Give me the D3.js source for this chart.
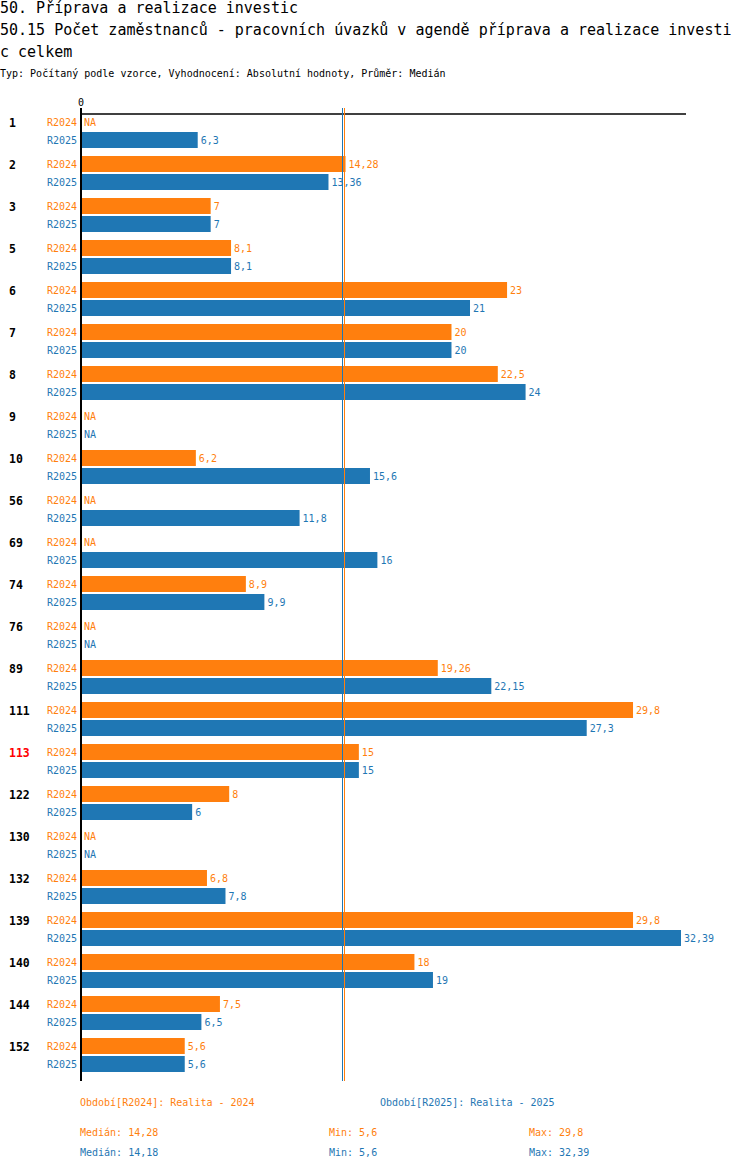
<!DOCTYPE html>
<html>
<head>
<meta charset="utf-8">
<script src="https://cdn.jsdelivr.net/npm/d3@7"></script>
<style>
  body { margin: 0; background: #fff; }
  text { font-family: 'DejaVu Sans Mono', monospace; }
</style>
</head>
<body>
<div id="chart"></div>
<script>
'use strict'

// Data
const titleLines = [
  '50. Příprava a realizace investic',
  '50.15 Počet zaměstnanců - pracovních úvazků v agendě příprava a realizace investi',
  'c celkem',
]
const subtitle =
  'Typ: Počítaný podle vzorce, Vyhodnocení: Absolutní hodnoty, Průměr: Medián'

const groups = [
  '1', '2', '3', '5', '6', '7', '8', '9', '10', '56', '69', '74',
  '76', '89', '111', '113', '122', '130', '132', '139', '140', '144', '152',
]
const highlighted = ['113']
const series = ['R2024', 'R2025']
const seriesNames = ['Realita - 2024', 'Realita - 2025']

const values2024 = [
  null, 14.28, 7, 8.1, 23, 20, 22.5, null, 6.2, null, null, 8.9,
  null, 19.26, 29.8, 15, 8, null, 6.8, 29.8, 18, 7.5, 5.6,
]
const values2025 = [
  6.3, 13.36, 7, 8.1, 21, 20, 24, null, 15.6, 11.8, 16, 9.9,
  null, 22.15, 27.3, 15, 6, null, 7.8, 32.39, 19, 6.5, 5.6,
]

const colors = ['#ff7f0e', '#1f77b4']

function draw() {
  const seriesValues = [values2024, values2025]
  const dataset = groups.map((g, i) => ({
    group: g,
    values: series.map((s, j) => ({ key: s, idx: j, value: seriesValues[j][i] })),
  }))

  const fmt = (v) => String(v).replace('.', ',')

  // Set dimensions
  let dimensions = {
    width: 750,
    height: 1170,
    plotLeft: 81,
    plotRight: 681,
    plotTop: 114,
    plotBottom: 1072,
  }

  const svg = d3
    .select('#chart')
    .append('svg')
    .attr('width', dimensions.width)
    .attr('height', dimensions.height)

  // Title
  svg
    .selectAll('text.title')
    .data(titleLines)
    .join('text')
    .attr('class', 'title')
    .attr('x', 0)
    .attr('y', (d, i) => 13 + i * 22)
    .attr('font-size', 15)
    .attr('fill', '#000')
    .text((d) => d)

  svg
    .append('text')
    .attr('x', 0)
    .attr('y', 77)
    .attr('font-size', 10)
    .attr('fill', '#000')
    .text(subtitle)

  // Scales
  const allValues = seriesValues.flat().filter((v) => v != null)
  const xScale = d3
    .scaleLinear()
    .domain([0, d3.max(allValues)])
    .range([dimensions.plotLeft, dimensions.plotRight])

  const yScale = d3
    .scaleBand()
    .domain(groups)
    .range([dimensions.plotTop, dimensions.plotBottom])
    .paddingInner(8 / 42)
    .paddingOuter(0)

  const subScale = d3
    .scaleBand()
    .domain(series)
    .range([0, yScale.bandwidth()])
    .paddingInner(2 / 18)

  // Group rows
  const rows = svg
    .selectAll('g.row')
    .data(dataset)
    .join('g')
    .attr('class', 'row')
    .attr('transform', (d) => `translate(0, ${yScale(d.group)})`)

  rows
    .append('text')
    .attr('x', 9)
    .attr('y', subScale('R2024') + subScale.bandwidth() / 2)
    .attr('dy', '0.42em')
    .attr('font-size', 11.5)
    .attr('font-weight', 'bold')
    .attr('fill', (d) => (highlighted.includes(d.group) ? '#ff0000' : '#000'))
    .text((d) => d.group)

  const cells = rows
    .selectAll('g.cell')
    .data((d) => d.values)
    .join('g')
    .attr('class', 'cell')
    .attr('transform', (d) => `translate(0, ${subScale(d.key)})`)

  cells
    .append('text')
    .attr('x', 77)
    .attr('y', subScale.bandwidth() / 2)
    .attr('dy', '0.42em')
    .attr('text-anchor', 'end')
    .attr('font-size', 10)
    .attr('fill', (d) => colors[d.idx])
    .text((d) => d.key)

  cells
    .filter((d) => d.value != null)
    .append('rect')
    .attr('x', xScale(0))
    .attr('y', 0)
    .attr('width', (d) => xScale(d.value) - xScale(0))
    .attr('height', subScale.bandwidth())
    .attr('fill', (d) => colors[d.idx])

  cells
    .append('text')
    .attr('x', (d) => (d.value != null ? xScale(d.value) + 3 : xScale(0) + 3))
    .attr('y', subScale.bandwidth() / 2)
    .attr('dy', '0.42em')
    .attr('font-size', 10)
    .attr('fill', (d) => colors[d.idx])
    .text((d) => (d.value != null ? fmt(d.value) : 'NA'))

  // Axes
  svg
    .append('line')
    .attr('x1', xScale(0) - 1)
    .attr('x2', 686)
    .attr('y1', dimensions.plotTop)
    .attr('y2', dimensions.plotTop)
    .attr('stroke', '#000')
    .attr('stroke-width', 1.5)

  svg
    .append('line')
    .attr('x1', xScale(0))
    .attr('x2', xScale(0))
    .attr('y1', 108)
    .attr('y2', 1081)
    .attr('stroke', '#000')
    .attr('stroke-width', 2)

  svg
    .append('text')
    .attr('x', xScale(0))
    .attr('y', 106)
    .attr('text-anchor', 'middle')
    .attr('font-size', 10)
    .attr('fill', '#000')
    .text('0')

  // Median lines
  const stats = seriesValues.map((vals) => {
    const v = vals.filter((d) => d != null)
    return { median: d3.median(v), min: d3.min(v), max: d3.max(v) }
  })

  svg
    .selectAll('line.median')
    .data(stats)
    .join('line')
    .attr('class', 'median')
    .attr('x1', (d) => Math.round(xScale(d.median)) - 1.5)
    .attr('x2', (d) => Math.round(xScale(d.median)) - 1.5)
    .attr('y1', 108)
    .attr('y2', 1081)
    .attr('stroke', (d, i) => colors[i])
    .attr('stroke-width', 1)

  // Legend
  svg
    .selectAll('text.legend')
    .data(series)
    .join('text')
    .attr('class', 'legend')
    .attr('x', (d, i) => 80 + i * 300)
    .attr('y', 1106)
    .attr('font-size', 10)
    .attr('fill', (d, i) => colors[i])
    .text((d, i) => `Období[${d}]: ${seriesNames[i]}`)

  const statRows = svg
    .selectAll('g.stats')
    .data(stats)
    .join('g')
    .attr('class', 'stats')
    .attr('fill', (d, i) => colors[i])
    .attr('font-size', 10)
    .attr('transform', (d, i) => `translate(0, ${1136 + i * 20})`)

  statRows.append('text').attr('x', 80).text((d) => `Medián: ${fmt(d.median)}`)
  statRows.append('text').attr('x', 329).text((d) => `Min: ${fmt(d.min)}`)
  statRows.append('text').attr('x', 529).text((d) => `Max: ${fmt(d.max)}`)
}

draw()
</script>
</body>
</html>
